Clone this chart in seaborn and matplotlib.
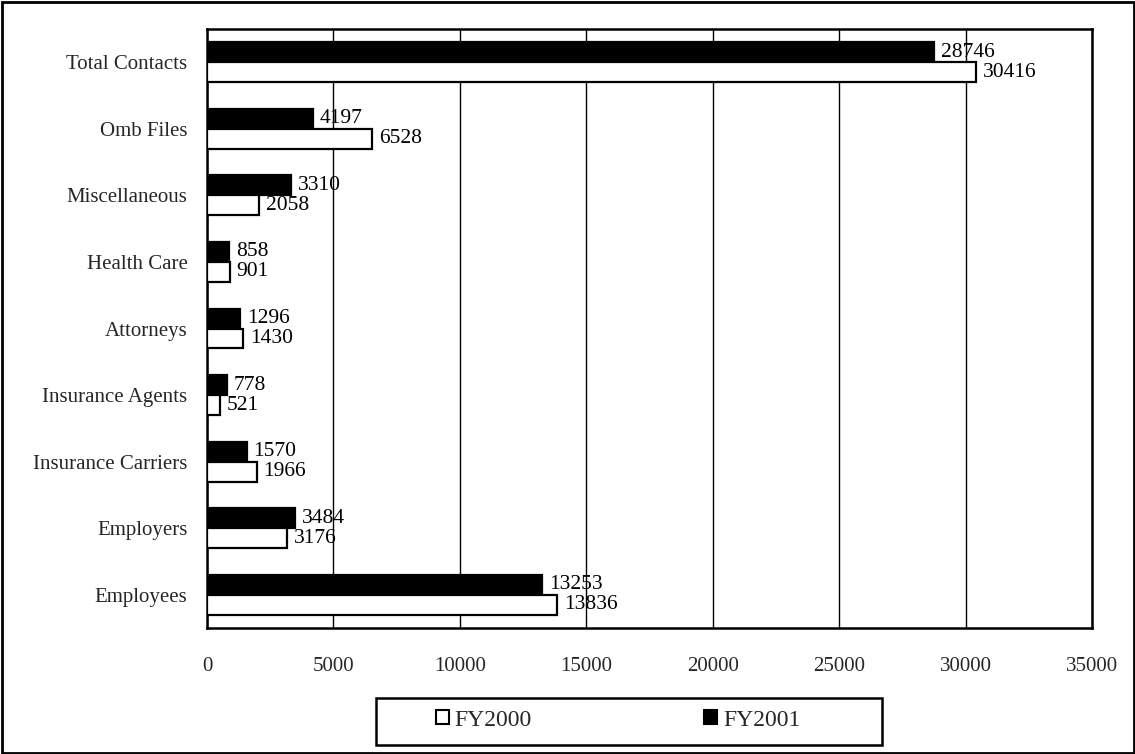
import matplotlib
matplotlib.use("Agg")
import matplotlib.pyplot as plt
import seaborn as sns
import pandas as pd
import numpy as np
from matplotlib.patches import Rectangle, Patch

categories = ["Total Contacts", "Omb Files", "Miscellaneous", "Health Care", "Attorneys",
              "Insurance Agents", "Insurance Carriers", "Employers", "Employees"]
fy2000 = [30416, 6528, 2058, 901, 1430, 521, 1966, 3176, 13836]
fy2001 = [28746, 4197, 3310, 858, 1296, 778, 1570, 3484, 13253]
x_ticks = [0, 5000, 10000, 15000, 20000, 25000, 30000, 35000]

sns.set_theme(style="white")
plt.rcParams['font.family'] = ['Liberation Serif', 'DejaVu Serif']

df = pd.DataFrame({
    "category": categories * 2,
    "value": fy2001 + fy2000,
    "series": ["FY2001"] * len(categories) + ["FY2000"] * len(categories),
})

W, H = 1135, 754
fig = plt.figure(figsize=(W / 100, H / 100), dpi=100)
ax = fig.add_axes([207/W, 1 - 628/H, (1092-207)/W, (628-29)/H])

sns.barplot(data=df, x="value", y="category", hue="series", order=categories,
            hue_order=["FY2001", "FY2000"], palette={"FY2001": "black", "FY2000": "white"},
            orient="h", width=0.6, edgecolor="black", linewidth=1.6, ax=ax, legend=False,
            zorder=3)

for cont in ax.containers:
    ax.bar_label(cont, padding=5, fontsize=15.5, color="black")

ax.set_xlim(0, 35000)
ax.set_xticks(x_ticks)
ax.set_xticklabels([str(t) for t in x_ticks], fontsize=15)
ax.tick_params(axis="x", direction="out", length=7, width=1.5, pad=14, color="black")
ax.grid(axis="x", color="black", linewidth=1.0, zorder=0)
ax.set_axisbelow(True)

n = len(categories)
ax.set_ylim(n - 0.5, -0.5)
ax.set_yticks(np.arange(-0.5, n, 1.0))
ax.set_yticklabels([])
ax.set_yticks(np.arange(n), minor=True)
ax.set_yticklabels(categories, minor=True, fontsize=15)
ax.tick_params(axis="y", which="major", direction="out", length=7, width=1.5, color="black")
ax.tick_params(axis="y", which="minor", length=0, pad=14)
ax.set_xlabel("")
ax.set_ylabel("")

for s in ax.spines.values():
    s.set_color("black")
    s.set_linewidth(1.8)

handles = [Patch(facecolor="white", edgecolor="black", linewidth=1.5, label="FY2000"),
           Patch(facecolor="black", edgecolor="black", linewidth=1.5, label="FY2001")]
leg = fig.legend(handles=handles, loc="center", bbox_to_anchor=(618/W, 1 - 720/H),
                 ncol=2, fontsize=17, frameon=False, handlelength=0.55,
                 handleheight=0.55, handletextpad=0.25, columnspacing=7.3,
                 borderpad=0)

# legend box
fig.patches.append(Rectangle((376/W, 1 - 745/H), (882-376)/W, (745-698)/H,
                             transform=fig.transFigure, fill=False,
                             edgecolor="black", linewidth=1.8))
# outer border
fig.patches.append(Rectangle((1.5/W, 1.5/H), 1 - 3/W, 1 - 3/H, transform=fig.transFigure,
                             fill=False, edgecolor="black", linewidth=2.0))

fig.savefig("out.png", dpi=100)
